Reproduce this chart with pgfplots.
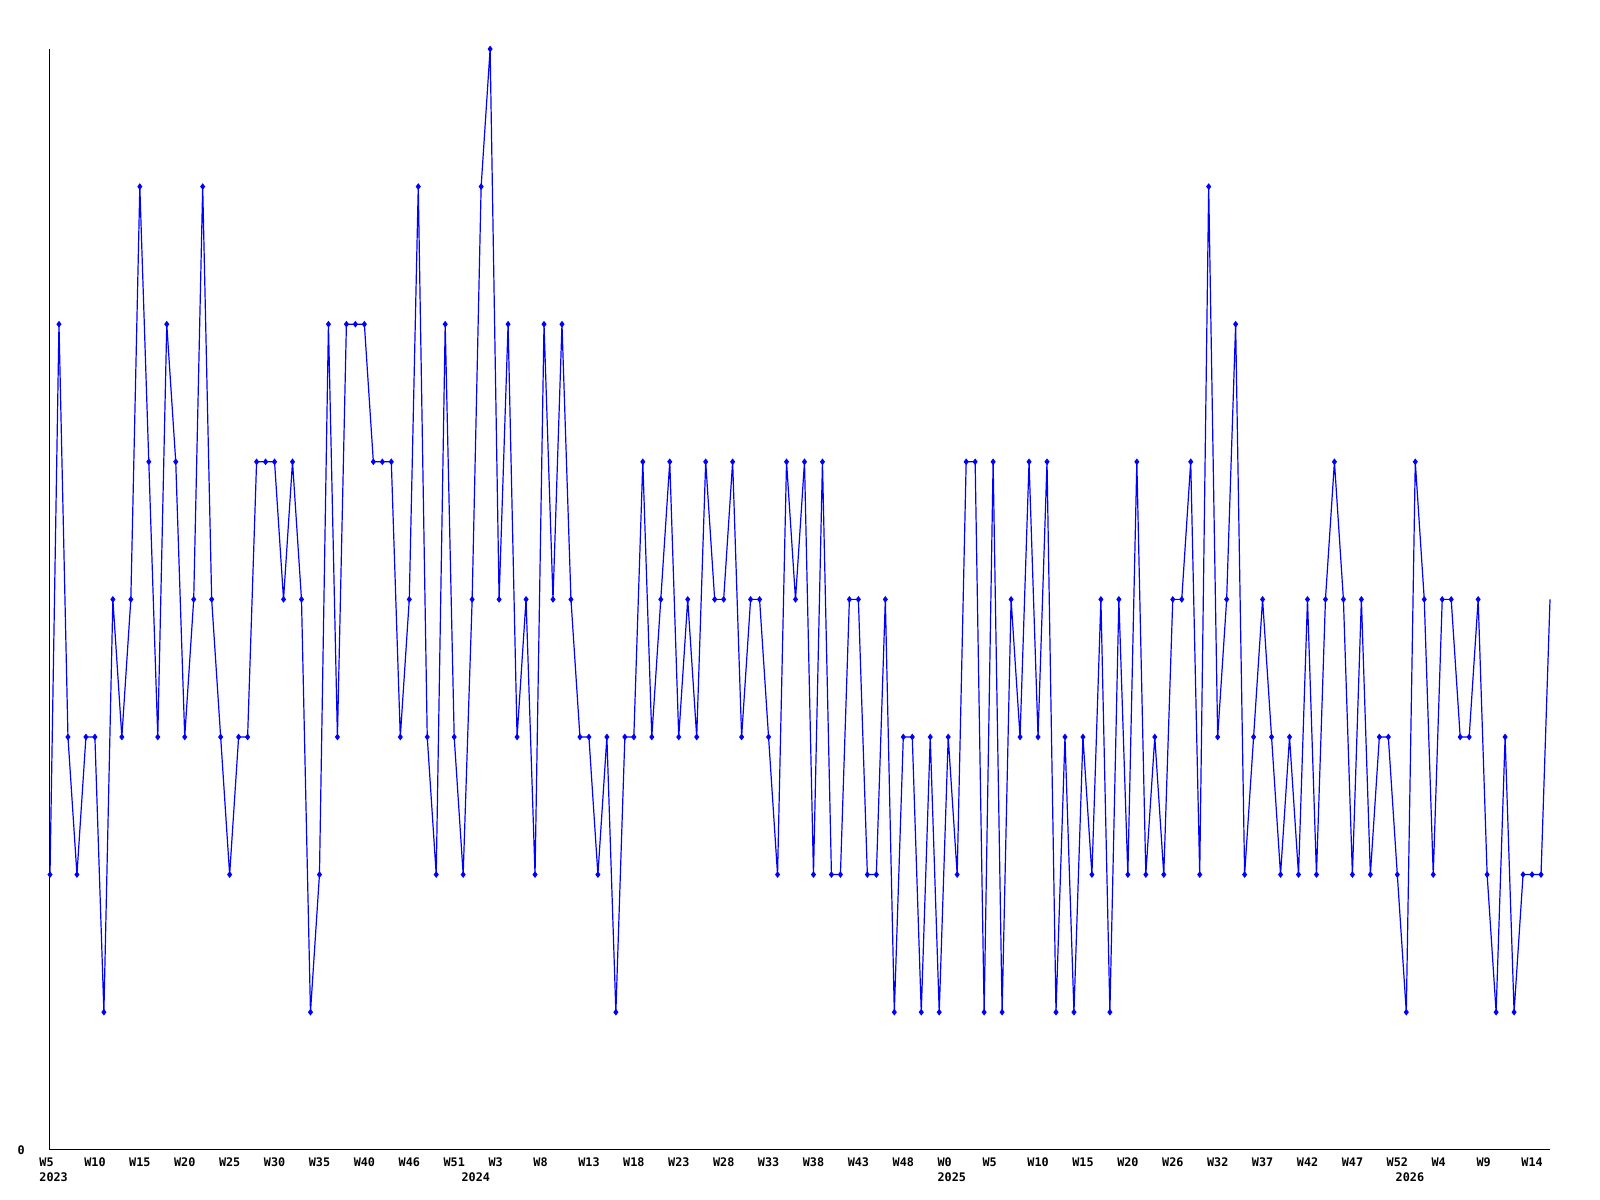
\documentclass[border=0pt]{standalone}
\usepackage{fontspec}
\setmonofont{DejaVu Sans Mono}
\usepackage{pgfplots}
\pgfplotsset{compat=1.18}
\usepackage{pgfplotstable}

% one value per week, oldest first
\pgfplotstableread{
v
2
6
3
2
3
3
1
4
3
4
7
5
3
6
5
3
4
7
4
3
2
3
3
5
5
5
4
5
4
1
2
6
3
6
6
6
5
5
5
3
4
7
3
2
6
3
2
4
7
8
4
6
3
4
2
6
4
6
4
3
3
2
3
1
3
3
5
3
4
5
3
4
3
5
4
4
5
3
4
4
3
2
5
4
5
2
5
2
2
4
4
2
2
4
1
3
3
1
3
1
3
2
5
5
1
5
1
4
3
5
3
5
1
3
1
3
2
4
1
4
2
5
2
3
2
4
4
5
2
7
3
4
6
2
3
4
3
2
3
2
4
2
4
5
4
2
4
2
3
3
2
1
5
4
2
4
4
3
3
4
2
1
3
1
2
2
2
4
}\weekly

\begin{document}
\begin{tikzpicture}
\begin{axis}[
  name=ax,
  scale only axis,
  width=750pt, height=550.4pt,
  xmin=0, xmax=167, ymin=0, ymax=8,
  axis x line=bottom, axis y line=left,
  axis line style={-, line width=0.5pt},
  xtick={0,5,...,165},
  xticklabels={W5,W10,W15,W20,W25,W30,W35,W40,W46,W51,W3,W8,W13,W18,W23,W28,W33,
    W38,W43,W48,W0,W5,W10,W15,W20,W26,W32,W37,W42,W47,W52,W4,W9,W14},
  ytick={0}, yticklabels={0},
  major tick length=0pt,
  tick label style={font=\fontsize{5.9}{6.5}\selectfont\ttfamily\bfseries},
  xticklabel style={anchor=north west, inner sep=0pt, xshift=-5.5pt, yshift=-4pt},
  yticklabel style={anchor=east, inner sep=0pt, xshift=-12.4pt},
  extra x ticks={0,47,100,151},
  extra x tick labels={2023,2024,2025,2026},
  extra x tick style={xticklabel style={yshift=-7.2pt}},
  clip=false,
]
\addplot[blue, line width=0.6pt, mark=diamond*, mark size=1.2pt, mark indices={1,...,167}]
  table[x expr=\coordindex, y=v] {\weekly};
\end{axis}
\path ([shift={(-25pt,-25pt)}]ax.south west) rectangle ([shift={(25pt,24.5pt)}]ax.north east);
\end{tikzpicture}
\end{document}
